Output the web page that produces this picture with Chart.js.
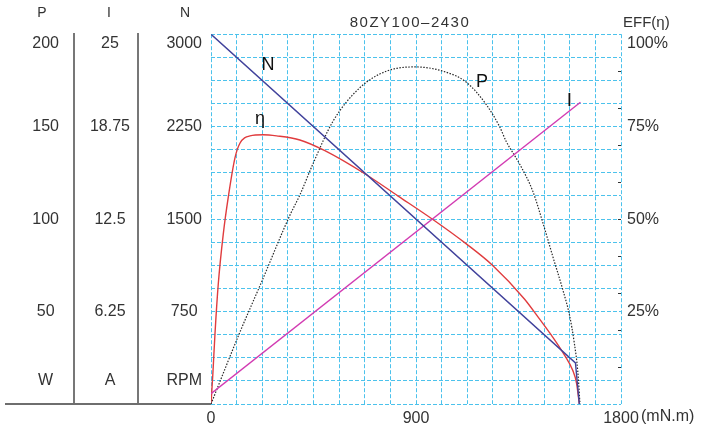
<!DOCTYPE html>
<html>
<head>
<meta charset="utf-8">
<script src="https://cdn.jsdelivr.net/npm/chart.js@4.4.1/dist/chart.umd.min.js"></script>
<style>
	html, body { margin: 0; padding: 0; background: #fff; }
	canvas { display: block; }
</style>
</head>
<body>
<canvas id="graphOne" width="708" height="434"></canvas>
<script>
// axis labels (every 4th grid line of 16)
const torqueTicks = [0, 900, 1800];
const speedTicks = [750, 1500, 2250, 3000];
const powerTicks = [50, 100, 150, 200];
const currentTicks = [6.25, 12.5, 18.75, 25];
const effTicks = [25, 50, 75, 100];

// N (RPM) vs torque
const speedTorque = [0, 1600, 1617];
const speedValues = [3000, 333, 0];

// I (A) vs torque
const currentTorque = [0, 1622];
const currentValues = [0.7, 20.4];

// P (W) vs torque
const powerTorque = [0, 124, 222, 346, 390, 448, 536, 653, 770, 894, 1018, 1121, 1208, 1267, 1296, 1354, 1413, 1457, 1500, 1544, 1574, 1595, 1610, 1620];
const powerValues = [0, 38, 66, 102, 113, 130, 153, 171, 180, 182.3, 180, 174, 162, 150, 142, 130, 115, 98, 80, 62, 48, 33, 18, 0];

// EFF (%) vs torque
const effTorque = [0, 8, 17.5, 32, 54, 76, 105, 127, 171, 229, 288, 390, 500, 682, 820, 974, 1121, 1238, 1376, 1442, 1500, 1552, 1588, 1605, 1617];
const effValues = [0, 8, 19, 32.5, 46, 56, 66.5, 70.5, 72.5, 72.8, 72.5, 71.4, 68.5, 62, 56.3, 49.9, 43.3, 37.4, 28.4, 23, 18.1, 13.2, 9.1, 5.6, 0];

const FONT = '"Liberation Sans", Arial, Helvetica, sans-serif';
Chart.defaults.font.family = FONT;
Chart.defaults.color = '#333';

const gridCyan = '#4cc2ec';

function points(xs, ys) {
	return xs.map((x, i) => ({ x: x, y: ys[i] }));
}

// 16 grid divisions on every axis
function gridSteps(max) {
	const out = [];
	for (let i = 0; i <= 16; i++) out.push({ value: max * i / 16 });
	return out;
}

function sideLabel(labels, max, unit) {
	return function (value) {
		if (Math.abs(value - max / 16) < 1e-6 && unit) return unit;
		if (!labels.includes(value)) return '';
		if (value === max) return ['', String(value)];
		return String(value);
	};
}

function columnAxis(max, labels, unit, width, pad, weight) {
	return {
		type: 'linear',
		position: 'left',
		min: 0,
		max: max,
		weight: weight,
		afterBuildTicks: (scale) => { scale.ticks = [{ value: max / 16 }].concat(labels.map(v => ({ value: v }))); },
		afterFit: (scale) => { scale.width = width; },
		ticks: {
			autoSkip: false,
			crossAlign: 'center',
			padding: pad,
			font: { size: 16 },
			callback: sideLabel(labels, max, unit)
		},
		grid: { display: false, drawTicks: false },
		border: { display: true, color: '#777', width: 2 }
	};
}

const extras = {
	id: 'extras',
	afterDraw(chart) {
		const c = chart.ctx;
		const a = chart.chartArea;
		const s = chart.scales;
		c.save();

		// base line under the left value columns
		c.strokeStyle = '#6e6e6e';
		c.lineWidth = 2;
		c.beginPath();
		c.moveTo(5, a.bottom);
		c.lineTo(a.left, a.bottom);
		c.stroke();

		// small inner ticks on the EFF side
		c.strokeStyle = '#333';
		c.lineWidth = 1;
		for (let v = 10; v < 100; v += 10) {
			const y = Math.round(s.yE.getPixelForValue(v)) + 0.5;
			c.beginPath();
			c.moveTo(a.right - 3, y);
			c.lineTo(a.right, y);
			c.stroke();
		}

		c.fillStyle = '#333';
		c.textBaseline = 'middle';
		c.textAlign = 'center';
		c.font = '14px ' + FONT;
		c.fillText('P', 42, 13);
		c.fillText('I', 109, 13);
		c.fillText('N', 185, 13);

		c.font = '15px ' + FONT;
		c.textAlign = 'left';
		c.fillText('EFF(η)', 623, 23);

		c.font = '16px ' + FONT;
		c.fillText('(mN.m)', 641, 417);

		c.textAlign = 'center';
		c.font = '15px ' + FONT;
		c.letterSpacing = '1.5px';
		c.fillText('80ZY100\u20132430', 410, 23);
		c.letterSpacing = '0px';

		// curve names
		c.fillStyle = '#111';
		c.font = '18px ' + FONT;
		c.fillText('N', s.x.getPixelForValue(250), s.y.getPixelForValue(2750));
		c.fillText('η', s.x.getPixelForValue(215), s.yE.getPixelForValue(77));
		c.fillText('P', s.x.getPixelForValue(1190), s.yP.getPixelForValue(174));
		c.font = '19px ' + FONT;
		c.fillText('I', s.x.getPixelForValue(1573), s.yI.getPixelForValue(20.5));
		c.restore();
	}
};

const ctx1 = document.getElementById('graphOne');

new Chart(ctx1, {
	type: 'line',
	data: {
		datasets: [{
			label: 'N',
			data: points(speedTorque, speedValues),
			yAxisID: 'y',
			borderColor: '#42439c',
			borderWidth: 1.4,
			pointRadius: 0,
			tension: 0
		}, {
			label: 'I',
			data: points(currentTorque, currentValues),
			yAxisID: 'yI',
			borderColor: '#d23bb2',
			borderWidth: 1.4,
			pointRadius: 0,
			tension: 0
		}, {
			label: 'P',
			data: points(powerTorque, powerValues),
			yAxisID: 'yP',
			borderColor: '#2a2a2a',
			borderWidth: 1.2,
			borderDash: [1.5, 1.5],
			pointRadius: 0,
			cubicInterpolationMode: 'monotone'
		}, {
			label: 'EFF',
			data: points(effTorque, effValues),
			yAxisID: 'yE',
			borderColor: '#e03c3e',
			borderWidth: 1.4,
			pointRadius: 0,
			cubicInterpolationMode: 'monotone'
		}]
	},
	options: {
		responsive: false,
		animation: false,
		layout: { padding: { top: 32, left: 0, right: 0, bottom: 0 } },
		scales: {
			x: {
				type: 'linear',
				min: 0,
				max: 1800,
				afterBuildTicks: (scale) => { scale.ticks = gridSteps(1800); },
				afterFit: (scale) => { scale.height = 30; },
				ticks: {
					autoSkip: false,
					maxRotation: 0,
					padding: 5,
					font: { size: 16 },
					callback: (value) => torqueTicks.includes(value) ? String(value) : ''
				},
				grid: { color: gridCyan, lineWidth: 1, drawTicks: false },
				border: { display: false, dash: [4, 2] }
			},
			y: {
				type: 'linear',
				position: 'left',
				min: 0,
				max: 3000,
				weight: 0,
				afterBuildTicks: (scale) => { scale.ticks = gridSteps(3000); },
				afterFit: (scale) => { scale.width = 73; },
				ticks: {
					autoSkip: false,
					crossAlign: 'center',
					padding: 9,
					font: { size: 16 },
					callback: sideLabel(speedTicks, 3000, 'RPM')
				},
				grid: { color: gridCyan, lineWidth: 1, drawTicks: false },
				border: { display: false, dash: [4, 2] }
			},
			yI: columnAxis(25, currentTicks, 'A', 64, 8, 1),
			yP: columnAxis(200, powerTicks, 'W', 74, 15, 2),
			yE: {
				type: 'linear',
				position: 'right',
				min: 0,
				max: 100,
				afterBuildTicks: (scale) => { scale.ticks = effTicks.map(v => ({ value: v })); },
				afterFit: (scale) => { scale.width = 87; },
				ticks: {
					autoSkip: false,
					padding: 6,
					font: { size: 16 },
					callback: (value) => value === 100 ? ['', value + '%'] : value + '%'
				},
				grid: { display: false, drawTicks: false },
				border: { display: false }
			}
		},
		plugins: {
			legend: { display: false },
			tooltip: { enabled: false },
			title: { display: false }
		}
	},
	plugins: [extras]
});
</script>
</body>
</html>
